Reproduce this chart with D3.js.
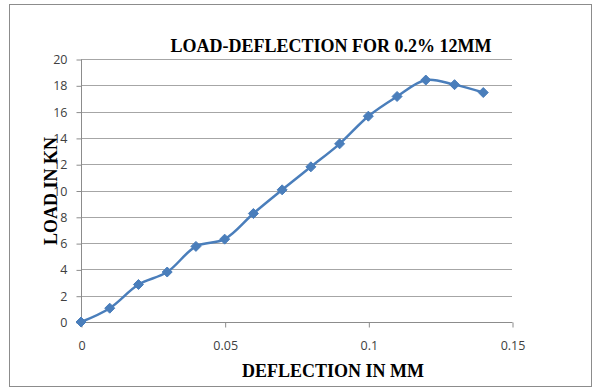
<!DOCTYPE html>
<html>
<head>
<meta charset="utf-8">
<script src="https://cdn.jsdelivr.net/npm/d3@7"></script>
<style>
  html, body { margin: 0; padding: 0; background: #fff; }
  svg { display: block; }
</style>
</head>
<body>
<svg id="chart" width="593" height="389"></svg>
<script>
// Load-deflection readings
const deflection = [0, 0.01, 0.02, 0.03, 0.04, 0.05, 0.06, 0.07, 0.08, 0.09, 0.10, 0.11, 0.12, 0.13, 0.14];
const load = [0, 1.05, 2.85, 3.8, 5.75, 6.3, 8.25, 10.05, 11.8, 13.55, 15.65, 17.15, 18.4, 18.05, 17.45];
const xTicks = [0, 0.05, 0.1, 0.15];
const yTicks = [0, 2, 4, 6, 8, 10, 12, 14, 16, 18, 20];

const svg = d3.select("#chart");
const W = 593, H = 389;

// outer frame
svg.append("rect")
  .attr("x", 9.5).attr("y", 4.5)
  .attr("width", W - 11).attr("height", H - 7)
  .attr("fill", "#fff").attr("stroke", "#8c8c8c").attr("stroke-width", 1);

const x = d3.scaleLinear().domain([0, 0.15]).range([81, 512]);
const y = d3.scaleLinear().domain([0, 20]).range([322, 59]);

const tickFont = "'Open Sans', 'DejaVu Sans', sans-serif";

// horizontal gridlines
svg.append("g")
  .selectAll("line")
  .data(yTicks.filter(d => d > 0))
  .join("line")
  .attr("x1", x(0)).attr("x2", x(0.15))
  .attr("y1", d => Math.round(y(d)) + 0.5).attr("y2", d => Math.round(y(d)) + 0.5)
  .attr("stroke", "#a6a6a6").attr("stroke-width", 1);

// y axis
const yAxis = svg.append("g")
  .attr("transform", `translate(${x(0) + 0.5},0.5)`)
  .call(d3.axisLeft(y).tickValues(yTicks).tickSize(5).tickPadding(9).tickFormat(d3.format("d")));
yAxis.select(".domain").attr("stroke", "#8c8c8c").attr("d", `M0,${y(20)}V${y(0)}`);
yAxis.selectAll(".tick line").attr("stroke", "#8c8c8c");
yAxis.selectAll("text")
  .attr("font-family", tickFont)
  .attr("font-size", 12.5).attr("fill", "#404040");

// x axis
const xAxis = svg.append("g")
  .attr("transform", `translate(0.5,${Math.round(y(0)) + 0.5})`)
  .call(d3.axisBottom(x).tickValues(xTicks).tickSize(5).tickPadding(14).tickFormat(d => d === 0 ? "0" : String(d)));
xAxis.select(".domain").attr("stroke", "#8c8c8c").attr("d", `M${x(0)},0H${x(0.15)}`);
xAxis.selectAll(".tick line").attr("stroke", "#8c8c8c");
xAxis.selectAll("text")
  .attr("font-family", tickFont)
  .attr("font-size", 12.5).attr("fill", "#404040");

// series line
const pts = deflection.map((d, i) => [d, load[i]]);
const line = d3.line()
  .x(d => x(d[0])).y(d => y(d[1]))
  .curve(d3.curveCatmullRom.alpha(0.5));
svg.append("path")
  .datum(pts)
  .attr("d", line)
  .attr("fill", "none")
  .attr("stroke", "#4a7ebb")
  .attr("stroke-width", 2.5)
  .attr("stroke-linejoin", "round");

// diamond markers
svg.append("g")
  .selectAll("path")
  .data(pts)
  .join("path")
  .attr("transform", d => `translate(${x(d[0])},${y(d[1])})`)
  .attr("d", "M0,-5L5,0L0,5L-5,0Z")
  .attr("fill", "#4a7ebb")
  .attr("stroke", "#4a7ebb")
  .attr("stroke-width", 1);

const serif = "'Liberation Serif', 'Times New Roman', serif";

// title
svg.append("text")
  .attr("x", 331).attr("y", 52)
  .attr("text-anchor", "middle")
  .attr("font-family", serif).attr("font-weight", "bold")
  .attr("font-size", 18).attr("fill", "#000")
  .text("LOAD-DEFLECTION FOR 0.2% 12MM");

// axis titles
svg.append("text")
  .attr("x", 333).attr("y", 377)
  .attr("text-anchor", "middle")
  .attr("font-family", serif).attr("font-weight", "bold")
  .attr("font-size", 18).attr("fill", "#000")
  .text("DEFLECTION IN MM");

svg.append("text")
  .attr("transform", "translate(57,191) rotate(-90)")
  .attr("text-anchor", "middle")
  .attr("font-family", serif).attr("font-weight", "bold")
  .attr("font-size", 18).attr("fill", "#000")
  .text("LOAD IN KN");
</script>
</body>
</html>
